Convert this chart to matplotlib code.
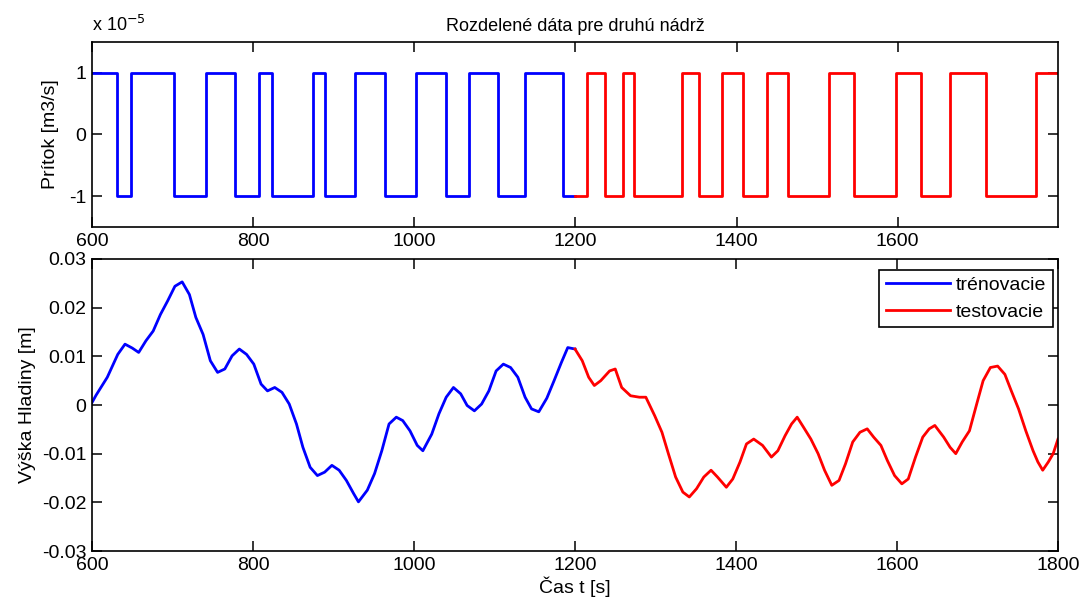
import numpy as np
import matplotlib
matplotlib.use('Agg')
import matplotlib.pyplot as plt
from matplotlib.ticker import FuncFormatter

plt.rcParams['font.family'] = ['Liberation Sans', 'DejaVu Sans']
plt.rcParams['axes.unicode_minus'] = False

# Inflow (x 1e-5 m3/s): switching instants and levels held after each one
flow_scale = 1e-5
train_switch = [600, 631, 649, 702, 742, 777, 807, 823, 874, 889, 926, 964, 1002,
                1039, 1068, 1104, 1138, 1185, 1200]
train_flow = [1, -1, 1, -1, 1, -1, 1, -1, 1, -1, 1, -1, 1, -1, 1, -1, 1, -1, -1]
test_switch = [1200, 1215, 1237, 1259, 1273, 1332, 1353, 1382, 1408, 1438, 1464, 1515,
               1546, 1598, 1629, 1665, 1710, 1772, 1800]
test_flow = [-1, 1, -1, 1, -1, 1, -1, 1, -1, 1, -1, 1, -1, 1, -1, 1, -1, 1, 1]

# Level of the second tank [m]
train_t = [600, 605, 619, 632, 641, 650, 658, 667, 676, 685, 694, 703, 712, 721, 729,
           738, 747, 756, 765, 774, 783, 792, 801, 810, 818, 827, 836, 845, 854, 862,
           871, 880, 889, 898, 907, 916, 925, 931, 942, 951, 960, 969, 978, 986, 995,
           1004, 1011, 1022, 1031, 1040, 1049, 1058, 1066, 1075, 1084, 1093, 1102, 1111,
           1120, 1129, 1138, 1146, 1155, 1165, 1174, 1183, 1191, 1200]
train_h = [0.0005, 0.002, 0.0057, 0.0104, 0.0125, 0.0117, 0.0108, 0.0132, 0.0152, 0.0186,
           0.0214, 0.0244, 0.0253, 0.0227, 0.018, 0.0145, 0.0091, 0.0067, 0.0074, 0.0101,
           0.0115, 0.0104, 0.0084, 0.0043, 0.0029, 0.0036, 0.0026, 0.0002, -0.0039, -0.0087,
           -0.0128, -0.0145, -0.0138, -0.0124, -0.0134, -0.0155, -0.0182, -0.0199, -0.0175,
           -0.0141, -0.0094, -0.0039, -0.0025, -0.0032, -0.0053, -0.0083, -0.0094, -0.006,
           -0.0018, 0.0016, 0.0036, 0.0023, -0.0001, -0.0012, 0.0002, 0.0029, 0.007, 0.0084,
           0.0077, 0.0057, 0.0016, -0.0008, -0.0014, 0.0014, 0.005, 0.0087, 0.0118, 0.0115]
test_t = [1200, 1209, 1217, 1224, 1232, 1243, 1250, 1258, 1269, 1280, 1288, 1299, 1308,
          1316, 1325, 1334, 1342, 1351, 1360, 1369, 1377, 1388, 1396, 1405, 1413, 1422,
          1433, 1444, 1452, 1461, 1469, 1476, 1484, 1493, 1502, 1510, 1519, 1528, 1536,
          1545, 1554, 1563, 1571, 1580, 1588, 1597, 1606, 1614, 1623, 1632, 1640, 1647,
          1658, 1666, 1673, 1681, 1690, 1699, 1707, 1716, 1725, 1734, 1742, 1751, 1760,
          1769, 1775, 1781, 1788, 1794, 1800]
test_h = [0.0115, 0.0091, 0.0057, 0.004, 0.005, 0.007, 0.0074, 0.0036, 0.0019, 0.0016,
          0.0016, -0.0022, -0.0056, -0.01, -0.0148, -0.0179, -0.0189, -0.0172, -0.0148,
          -0.0134, -0.0148, -0.0169, -0.0152, -0.0117, -0.008, -0.007, -0.0083, -0.0107,
          -0.0094, -0.0063, -0.0039, -0.0025, -0.0046, -0.007, -0.01, -0.0134, -0.0165,
          -0.0155, -0.0121, -0.0076, -0.0056, -0.0049, -0.0066, -0.0083, -0.0114, -0.0145,
          -0.0162, -0.0152, -0.0107, -0.0066, -0.0049, -0.0042, -0.0066, -0.0087, -0.01,
          -0.0076, -0.0053, 0.0002, 0.005, 0.0077, 0.008, 0.0063, 0.0029, -0.0008, -0.0053,
          -0.0094, -0.0117, -0.0134, -0.0117, -0.01, -0.007]

W, H = 1085, 603
fig = plt.figure(figsize=(W / 100, H / 100), dpi=100)
ax1 = fig.add_axes([92 / W, (H - 227) / H, 966 / W, 185 / H])
ax2 = fig.add_axes([92 / W, (H - 551) / H, 966 / W, 292 / H])

lw = 2.0
ax1.step(train_switch, np.array(train_flow) * flow_scale, 'b-', where='post', lw=lw)
ax1.step(test_switch, np.array(test_flow) * flow_scale, 'r-', where='post', lw=lw)
ax1.set_xlim(600, 1799)
ax1.set_ylim(-1.5 * flow_scale, 1.5 * flow_scale)
ax1.set_xticks([600, 800, 1000, 1200, 1400, 1600])
ax1.set_yticks([-flow_scale, 0, flow_scale])
ax1.yaxis.set_major_formatter(FuncFormatter(lambda v, p: '%g' % round(v / flow_scale, 6)))
ax1.set_title('Rozdelené dáta pre druhú nádrž', fontsize=13, pad=8)
ax1.set_ylabel('Prítok [m3/s]', fontsize=14)
ax1.yaxis.set_label_coords(-0.034, 0.5)
ax1.text(0.0, 1.04, 'x 10$^{-5}$', transform=ax1.transAxes, fontsize=13,
         ha='left', va='bottom')

ax2.plot(train_t, train_h, 'b-', lw=lw, label='trénovacie')
ax2.plot(test_t, test_h, 'r-', lw=lw, label='testovacie')
ax2.set_xlim(600, 1800)
ax2.set_ylim(-0.03, 0.03)
ax2.set_xticks([600, 800, 1000, 1200, 1400, 1600, 1800])
ax2.set_yticks([-0.03, -0.02, -0.01, 0, 0.01, 0.02, 0.03])
ax2.yaxis.set_major_formatter(FuncFormatter(lambda v, p: '%g' % round(v, 4)))
ax2.set_xlabel('Čas t [s]', fontsize=14, labelpad=2)
ax2.set_ylabel('Výška Hladiny [m]', fontsize=14)
ax2.yaxis.set_label_coords(-0.058, 0.5)
leg = ax2.legend(loc='upper right', bbox_to_anchor=(0.995, 0.963), fontsize=14,
                 fancybox=False, edgecolor='black', framealpha=1, handlelength=3.3,
                 handletextpad=0.3, borderpad=0.35, labelspacing=0.45, borderaxespad=0)
leg.get_frame().set_linewidth(1.2)

for ax in (ax1, ax2):
    ax.tick_params(direction='in', top=True, right=True, length=7, width=1.1,
                   labelsize=14, pad=4)
    for s in ax.spines.values():
        s.set_linewidth(1.2)

fig.savefig('out.png', dpi=100)
